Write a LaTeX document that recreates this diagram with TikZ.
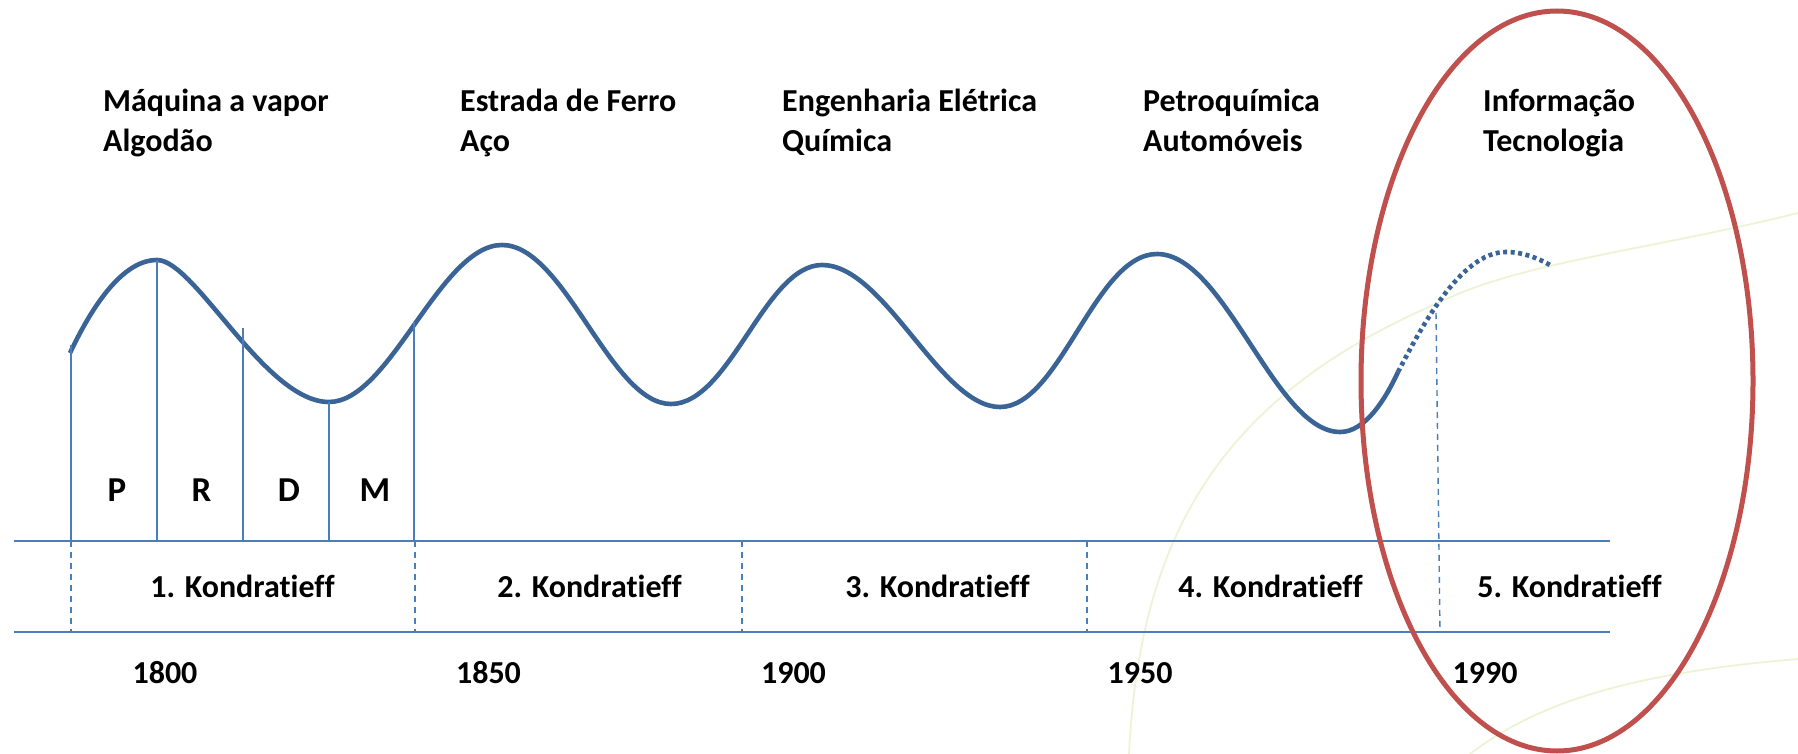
\documentclass[tikz,border=0pt]{standalone}
\usepackage{fontspec}
\setmainfont[Ligatures=NoCommon]{Carlito}
\definecolor{wavec}{HTML}{3A6496}
\definecolor{rulec}{HTML}{4A7EBB}
\definecolor{palec}{HTML}{EEF3D6}
\definecolor{ringc}{HTML}{C0504D}
\begin{document}
\begin{tikzpicture}[x=1pt,y=-1pt,
  wave/.style={draw=wavec,line width=4.6pt,line join=round},
  hrule/.style={draw=rulec,line width=1.6pt},
  vtick/.style={draw=rulec,line width=1.5pt},
  dashtick/.style={draw=rulec,line width=1.4pt,dash pattern=on 6pt off 5pt},
  lab/.style={font=\bfseries\fontsize{32}{36}\selectfont,inner sep=0pt,anchor=base west,align=left,text=black},
  capt/.style={font=\bfseries\fontsize{32}{36}\selectfont,inner sep=0pt,anchor=base,text=black},
  phase/.style={font=\bfseries\fontsize{35}{38}\selectfont,inner sep=0pt,anchor=base,text=black},
  pale/.style={draw=palec,line width=1.8pt}]
\useasboundingbox (0,0) rectangle (1798,754);
\fill[white] (0,0) rectangle (1798,754);
% pale background curves
\draw[pale] (1129,754) .. controls (1140,530) and (1225,395) .. (1438,303) .. controls (1520,262) and (1650,250) .. (1798,213);
\draw[pale] (1470,754) .. controls (1540,700) and (1640,672) .. (1798,659);
% coordinates
\coordinate (a0) at (70,353); \coordinate (a1) at (157,260);
\coordinate (a3) at (329,402);
\coordinate (base1) at (71,541); \coordinate (base2) at (157,541); \coordinate (base3) at (243,541);
\coordinate (base4) at (329,541); \coordinate (base5) at (414,541);
\coordinate (L1) at (14,541); \coordinate (R1) at (1610,541); \coordinate (L2) at (14,632); \coordinate (R2) at (1610,632);
% wave
\draw[wave] (a0) .. controls (95,300) and (125,260) .. (a1)
  .. controls (195,260) and (265,402) .. (a3)
  .. controls (390,402) and (440,245) .. (502,245)
  .. controls (565,245) and (610,404) .. (671,404)
  .. controls (730,404) and (765,265) .. (822,265)
  .. controls (885,265) and (940,407) .. (1000,407)
  .. controls (1060,407) and (1095,254) .. (1157,254)
  .. controls (1225,254) and (1275,432) .. (1340,432)
  .. controls (1365,432) and (1385,400) .. (1398,372);
\draw[draw=wavec,line width=4.6pt,dash pattern=on 4pt off 3.5pt] (1398,372) .. controls (1420,330) and (1460,252) .. (1506,252) .. controls (1522,252) and (1538,258) .. (1550,265);
% ticks
\draw[vtick] (71,345) -- (base1);
\draw[vtick] (a1) -- (base2);
\draw[vtick] (243,328) -- (base3);
\draw[vtick] (a3) -- (base4);
\draw[vtick,line width=2pt] (414,322) -- (base5);
% rules
\draw[hrule] (L1) -- (R1);
\draw[hrule] (L2) -- (R2);
\draw[dashtick] (71,541) -- (71,632);
\draw[dashtick] (415,541) -- (415,632);
\draw[dashtick] (742,541) -- (742,632);
\draw[dashtick] (1087,541) -- (1087,632);
\draw[dashtick] (1436,313) -- (1440,632);
% ring
\draw[ringc,line width=5pt] (1557,381) ellipse [x radius=196,y radius=370];
% texts
\node[lab] (t1) at (103,112) {Máquina a vapor};
\node[lab] (t1b) at (103,152) {Algodão};
\node[lab] (t2) at (460,112) {Estrada de Ferro};
\node[lab] (t2b) at (460,152) {Aço};
\node[lab] (t3) at (782,112) {Engenharia Elétrica};
\node[lab] (t3b) at (782,152) {Química};
\node[lab] (t4) at (1143,112) {Petroquímica};
\node[lab] (t4b) at (1143,152) {Automóveis};
\node[lab] (t5) at (1483,112) {Informação};
\node[lab] (t5b) at (1483,152) {Tecnologia};
\node[phase] (p) at (117,501) {P};
\node[phase] (r) at (201.5,501) {R};
\node[phase] (d) at (289,501) {D};
\node[phase] (m) at (375,501) {M};
\node[capt] (k1) at (242.5,597) {1. Kondratieff};
\node[capt] (k2) at (589.5,597) {2. Kondratieff};
\node[capt] (k3) at (937.5,597) {3. Kondratieff};
\node[capt] (k4) at (1270.5,597) {4. Kondratieff};
\node[capt] (k5) at (1569.5,597) {5. Kondratieff};
\node[capt] (y1) at (165,683) {1800};
\node[capt] (y2) at (488.5,683) {1850};
\node[capt] (y3) at (793.5,683) {1900};
\node[capt] (y4) at (1140,683) {1950};
\node[capt] (y5) at (1485,683) {1990};
\end{tikzpicture}
\end{document}
